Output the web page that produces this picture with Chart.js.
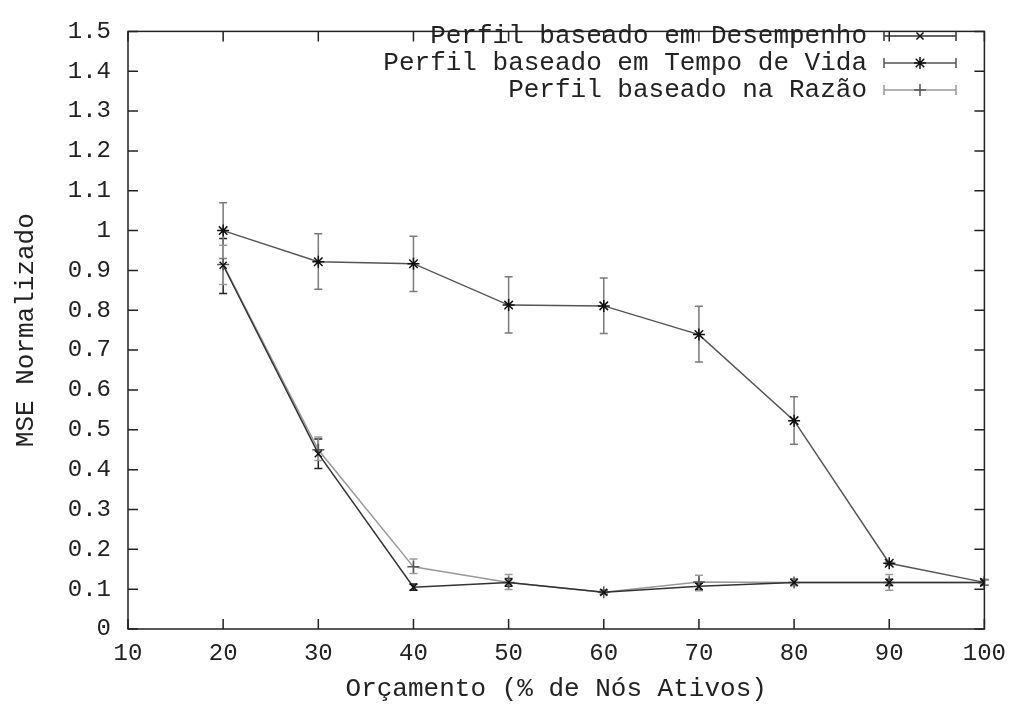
<!DOCTYPE html>
<html>
<head>
<meta charset="utf-8">
<script src="https://cdn.jsdelivr.net/npm/chart.js@4.4.0/dist/chart.umd.min.js"></script>
<style>
body { margin: 0; background: #fff; }
#wrap { width: 1016px; height: 707px; }
</style>
</head>
<body>
<div id="wrap"><canvas id="mseChart" width="1016" height="707"></canvas></div>
<script>
// budget (% of active nodes)
const orcamento = [20, 30, 40, 50, 60, 70, 80, 90, 100];

// Perfil baseado em Desempenho
const desempenho    = [0.913, 0.440, 0.105, 0.117, 0.092, 0.107, 0.117, 0.117, 0.117];
const desempenhoLo  = [0.842, 0.403, 0.097, 0.107, 0.087, 0.099, 0.109, 0.109, 0.110];
const desempenhoHi  = [0.980, 0.477, 0.113, 0.127, 0.097, 0.115, 0.125, 0.125, 0.124];

// Perfil baseado em Tempo de Vida
const tempoVida     = [1.000, 0.922, 0.917, 0.813, 0.811, 0.739, 0.523, 0.165, 0.117];
const tempoVidaLo   = [0.930, 0.853, 0.847, 0.743, 0.742, 0.670, 0.464, 0.161, 0.111];
const tempoVidaHi   = [1.070, 0.992, 0.986, 0.884, 0.881, 0.810, 0.583, 0.169, 0.123];

// Perfil baseado na Razão
const razao         = [0.915, 0.450, 0.156, 0.117, 0.092, 0.118, 0.117, 0.117, 0.117];
const razaoLo       = [0.865, 0.423, 0.139, 0.099, 0.088, 0.096, 0.110, 0.097, 0.111];
const razaoHi       = [0.963, 0.482, 0.176, 0.137, 0.097, 0.135, 0.124, 0.137, 0.123];

const xTicks = [10, 20, 30, 40, 50, 60, 70, 80, 90, 100];
const yTicks = ['0', '0.1', '0.2', '0.3', '0.4', '0.5', '0.6', '0.7', '0.8', '0.9',
                '1', '1.1', '1.2', '1.3', '1.4', '1.5'];

const MONO = "'Liberation Mono', 'DejaVu Sans Mono', monospace";

const errBars = [
    { lo: desempenhoLo, hi: desempenhoHi, color: '#222' },
    { lo: tempoVidaLo,  hi: tempoVidaHi,  color: '#7a7a7a' },
    { lo: razaoLo,      hi: razaoHi,      color: '#9a9a9a' }
];

function toPoints(ys) {
    return orcamento.map((x, i) => ({ x: x, y: ys[i] }));
}

// vertical error bars with small caps
const errorBarsPlugin = {
    id: 'errorBars',
    beforeDatasetsDraw(chart) {
        const ctx = chart.ctx;
        const xs = chart.scales.x, ys = chart.scales.y;
        errBars.forEach(bar => {
            ctx.save();
            ctx.strokeStyle = bar.color;
            ctx.lineWidth = 1.5;
            ctx.beginPath();
            orcamento.forEach((x, j) => {
                const px = xs.getPixelForValue(x);
                const top = ys.getPixelForValue(bar.hi[j]);
                const bot = ys.getPixelForValue(bar.lo[j]);
                ctx.moveTo(px, top); ctx.lineTo(px, bot);
                ctx.moveTo(px - 4, top); ctx.lineTo(px + 4, top);
                ctx.moveTo(px - 4, bot); ctx.lineTo(px + 4, bot);
            });
            ctx.stroke();
            ctx.restore();
        });
    }
};

// gnuplot style box with inward ticks on every side
const frameTicksPlugin = {
    id: 'frameTicks',
    afterDraw(chart) {
        const ctx = chart.ctx;
        const a = chart.chartArea;
        const xs = chart.scales.x, ys = chart.scales.y;
        const len = 10;
        ctx.save();
        ctx.strokeStyle = '#222';
        ctx.lineWidth = 1.5;
        ctx.strokeRect(a.left, a.top, a.right - a.left, a.bottom - a.top);
        ctx.beginPath();
        xTicks.forEach(v => {
            const px = xs.getPixelForValue(v);
            ctx.moveTo(px, a.bottom); ctx.lineTo(px, a.bottom - len);
            ctx.moveTo(px, a.top); ctx.lineTo(px, a.top + len);
        });
        yTicks.forEach(t => {
            const py = ys.getPixelForValue(parseFloat(t));
            ctx.moveTo(a.left, py); ctx.lineTo(a.left + len, py);
            ctx.moveTo(a.right, py); ctx.lineTo(a.right - len, py);
        });
        ctx.stroke();
        ctx.restore();
    }
};

// key in the top right corner: text, then sample with error caps
const keyPlugin = {
    id: 'gnuKey',
    afterDraw(chart) {
        const ctx = chart.ctx;
        const textRight = 867;
        const x0 = 884, x1 = 956;
        const rows = [36, 63, 90];
        ctx.save();
        ctx.font = '26px ' + MONO;
        ctx.textAlign = 'right';
        ctx.textBaseline = 'middle';
        chart.data.datasets.forEach((ds, i) => {
            const y = rows[i];
            ctx.fillStyle = '#222';
            ctx.fillText(ds.label, textRight, y);
            ctx.strokeStyle = ds.borderColor;
            ctx.lineWidth = 1.5;
            ctx.beginPath();
            ctx.moveTo(x0, y); ctx.lineTo(x1, y);
            ctx.moveTo(x0, y - 5); ctx.lineTo(x0, y + 5);
            ctx.moveTo(x1, y - 5); ctx.lineTo(x1, y + 5);
            ctx.stroke();
            ctx.strokeStyle = ds.pointBorderColor;
            Chart.helpers.drawPoint(ctx, {
                pointStyle: ds.pointStyle,
                radius: ds.pointRadius,
                rotation: 0,
                borderWidth: 1.5
            }, (x0 + x1) / 2, y);
        });
        ctx.restore();
    }
};

const ctx = document.getElementById('mseChart').getContext('2d');
new Chart(ctx, {
    type: 'line',
    data: {
        datasets: [{
            label: 'Perfil baseado em Desempenho',
            data: toPoints(desempenho),
            borderColor: '#333',
            borderWidth: 1.5,
            pointStyle: 'crossRot',
            pointRadius: 5,
            pointBorderColor: '#111',
            pointBorderWidth: 1.5,
            fill: false,
            tension: 0
        }, {
            label: 'Perfil baseado em Tempo de Vida',
            data: toPoints(tempoVida),
            borderColor: '#555',
            borderWidth: 1.5,
            pointStyle: 'star',
            pointRadius: 6,
            pointBorderColor: '#111',
            pointBorderWidth: 1.5,
            fill: false,
            tension: 0
        }, {
            label: 'Perfil baseado na Razão',
            data: toPoints(razao),
            borderColor: '#999',
            borderWidth: 1.5,
            pointStyle: 'cross',
            pointRadius: 6,
            pointBorderColor: '#555',
            pointBorderWidth: 1.5,
            fill: false,
            tension: 0
        }]
    },
    options: {
        responsive: false,
        animation: false,
        layout: { padding: { top: 12, right: 28, left: 0, bottom: 0 } },
        plugins: {
            legend: { display: false },
            tooltip: { enabled: false }
        },
        scales: {
            x: {
                type: 'linear',
                min: 10,
                max: 100,
                grid: { display: false, drawTicks: false },
                border: { display: false },
                ticks: {
                    stepSize: 10,
                    autoSkip: false,
                    maxRotation: 0,
                    padding: 10,
                    color: '#222',
                    font: { family: MONO, size: 24 }
                },
                title: {
                    display: true,
                    text: 'Orçamento (% de Nós Ativos)',
                    color: '#222',
                    font: { family: MONO, size: 26 },
                    padding: { top: 0, bottom: 2 }
                },
                afterFit(scale) { scale.height = 78; }
            },
            y: {
                min: 0,
                max: 1.5,
                grid: { display: false, drawTicks: false },
                border: { display: false },
                ticks: {
                    stepSize: 0.1,
                    autoSkip: false,
                    padding: 17,
                    color: '#222',
                    font: { family: MONO, size: 24 },
                    callback: v => yTicks[Math.round(v * 10)]
                },
                title: {
                    display: true,
                    text: 'MSE Normalizado',
                    color: '#222',
                    font: { family: MONO, size: 26 },
                    padding: { top: 11, bottom: 0 }
                },
                afterFit(scale) { scale.width = 128; }
            }
        }
    },
    plugins: [errorBarsPlugin, frameTicksPlugin, keyPlugin]
});
</script>
</body>
</html>
